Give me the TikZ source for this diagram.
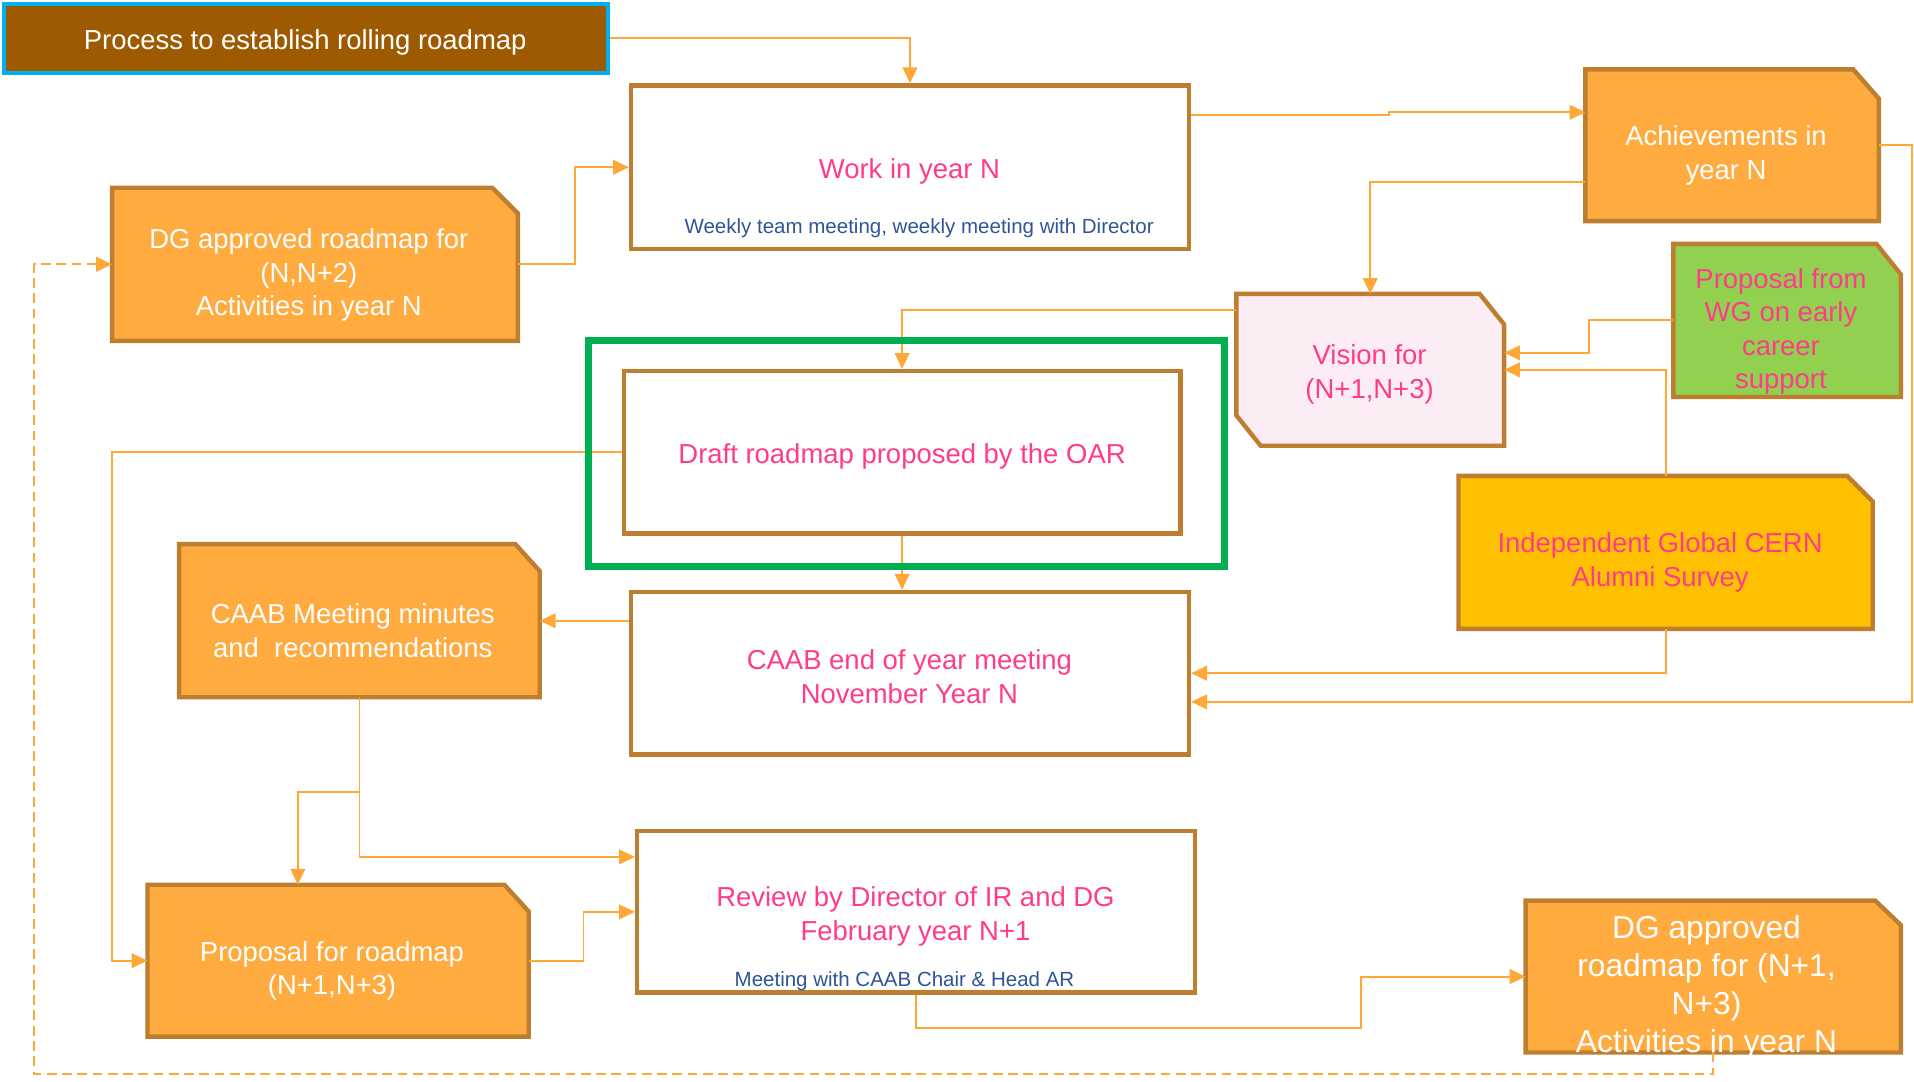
\documentclass[tikz,border=0pt]{standalone}
\usepackage{fontspec}
\setmainfont{Liberation Sans}
\usetikzlibrary{arrows.meta,calc}
\definecolor{brd}{RGB}{190,126,48}
\definecolor{orng}{RGB}{255,171,64}
\definecolor{visfill}{RGB}{252,236,244}
\definecolor{wgfill}{RGB}{146,208,80}
\definecolor{survfill}{RGB}{255,192,0}
\definecolor{grn}{RGB}{0,176,80}
\definecolor{conn}{RGB}{255,168,56}
\definecolor{pinktxt}{RGB}{255,60,140}
\definecolor{bluetxt}{RGB}{47,85,151}
\definecolor{titlebrown}{RGB}{158,90,0}
\definecolor{cyanb}{RGB}{0,176,240}
\newcommand\snipNE[4]{\filldraw[boxline,fill=#2] (#1.north west) -- ([xshift=-#3]#1.north east) -- ([yshift=-#4]#1.north east) -- (#1.south east) -- (#1.south west) -- cycle;}
\begin{document}
\begin{tikzpicture}[x=1pt,y={(0pt,-1pt)},
  boxline/.style={draw=brd,line width=3.6pt},
  plainbox/.style={boxline,fill=white,inner sep=0pt},
  frame/.style={draw=none,fill=none,inner sep=0pt},
  txt/.style={align=center,inner sep=0pt,yshift=-2.5pt,font=\fontsize{22.5}{27.5}\selectfont},
  wtxt/.style={txt,text=white},
  ptxt/.style={txt,text=pinktxt},
  btxt/.style={align=center,inner sep=0pt,yshift=-2pt,text=bluetxt,font=\fontsize{16.8}{20}\selectfont},
  link/.style={draw=conn,line width=1.6pt,-{Triangle[length=13pt,width=12pt]}},
  dashlink/.style={draw=conn,line width=1.6pt,dash pattern=on 8pt off 4.5pt,-{Triangle[length=13pt,width=12pt]}}
]
\useasboundingbox (0,0) rectangle (1568,886);

% title
\node[draw=cyanb,line width=3.5pt,fill=titlebrown,minimum width=495pt,minimum height=57pt,inner sep=0pt] (title) at (250.5,31.5) {};
\node[wtxt] (titlet) at (250,32) {Process to establish rolling roadmap};

% plain boxes
\node[plainbox,minimum width=457pt,minimum height=134pt] (work) at (745.5,137) {};
\node[ptxt] (workt) at (745,138) {Work in year N};
\node[btxt] (works) at (753,185) {Weekly team meeting, weekly meeting with Director};

\node[plainbox,minimum width=456pt,minimum height=133pt] (draft) at (739,370.5) {};
\node[ptxt] (draftt) at (739,371) {Draft roadmap proposed by the OAR};

\node[plainbox,minimum width=457pt,minimum height=133pt] (caab) at (745.5,551.5) {};
\node[ptxt] (caabt) at (745,552) {CAAB end of year meeting\\November Year N};

\node[plainbox,minimum width=457pt,minimum height=132pt] (rev) at (750.5,747) {};
\node[ptxt] (revt) at (750,748) {Review by Director of IR and DG\\February year N+1};
\node[btxt] (revs) at (741,802) {Meeting with CAAB Chair \& Head AR};

% snipped boxes
\node[frame,minimum width=240pt,minimum height=124pt] (ach) at (1419,119) {};
\snipNE{ach}{orng}{21pt}{24pt}
\node[wtxt] (acht) at (1414,125) {Achievements in\\year N};

\node[frame,minimum width=332pt,minimum height=125pt] (dg1) at (258,216.5) {};
\snipNE{dg1}{orng}{21pt}{21pt}
\node[wtxt] (dg1t) at (253,223) {DG approved roadmap for\\(N,N+2)\\Activities in year N};

\node[frame,minimum width=219pt,minimum height=124pt] (vis) at (1122.5,303) {};
\filldraw[boxline,fill=visfill] (vis.north west) -- ([xshift=-20pt]vis.north east) -- ([yshift=-25pt]vis.north east) -- (vis.south east) -- ([xshift=20pt]vis.south west) -- ([yshift=25pt]vis.south west) -- cycle;
\node[ptxt] (vist) at (1122,304) {Vision for\\(N+1,N+3)};

\node[frame,minimum width=186pt,minimum height=125pt] (wg) at (1464,262.5) {};
\snipNE{wg}{wgfill}{20pt}{25pt}
\node[ptxt] (wgt) at (1459,269) {Proposal from\\WG on early\\career\\support};

\node[frame,minimum width=339pt,minimum height=125pt] (surv) at (1364.5,452.5) {};
\snipNE{surv}{survfill}{21pt}{21pt}
\node[ptxt] (survt) at (1360,458) {Independent Global CERN\\Alumni Survey};

\node[frame,minimum width=295pt,minimum height=125pt] (min) at (294.5,508.5) {};
\snipNE{min}{orng}{20pt}{22pt}
\node[wtxt] (mint) at (289,514) {CAAB Meeting minutes\\and\ \ recommendations};

\node[frame,minimum width=312pt,minimum height=124pt] (prop) at (277,787) {};
\snipNE{prop}{orng}{20pt}{22pt}
\node[wtxt] (propt) at (272,793) {Proposal for roadmap\\(N+1,N+3)};

\node[frame,minimum width=307pt,minimum height=124pt] (dg2) at (1403.5,800) {};
\snipNE{dg2}{orng}{21pt}{20pt}
\node[txt,text=white,font=\fontsize{26}{31}\selectfont] (dg2t) at (1398,806.5) {DG approved\\roadmap for (N+1,\\N+3)\\Activities in year N};

% connectors
\draw[link] (title.east) -| (work.north);
\draw[link] ([yshift=43pt]work.east) -- (1138,94) -- (1138,92) -- ([yshift=27pt]ach.west);
\draw[link] ([yshift=-30pt]ach.west) -| (vis.north);
\draw[link] (ach.east) -- (1566,119) |- ([yshift=-23.5pt]caab.east);
\draw[link] (dg1.east) -- (471,216.5) |- (work.west);
\draw[dashlink] (dg2.south) |- (28,880) |- (dg1.west);
\draw[link] ([yshift=49pt]vis.west) -| (draft.north);
\draw[link] (wg.west) -- (1302,262.5) |- ([yshift=14pt]vis.east);
\draw[link] (surv.north) |- (vis.east);
\draw[link] (surv.south) |- (caab.east);
\draw[link] (draft.south) -- (draft.south |- caab.north);
\draw[link] (draft.west) -- (92,370.5) |- (prop.west);
\draw[link] ([yshift=43pt]caab.west) -- (min.east);
\draw[link] (min.south) |- ([yshift=45pt]rev.west);
\coordinate (mb) at (294.5,649);
\draw[link] (mb) -| ([xshift=-33pt]prop.north);
\draw[link] (prop.east) -- (478,787) |- (rev.west);
\draw[link] (rev.south) |- (1115,842) |- (dg2.west);

% green frame
\node[draw=grn,line width=5.5pt,minimum width=521pt,minimum height=185pt,inner sep=0pt] (gframe) at (742.5,371.5) {};
\end{tikzpicture}
\end{document}
